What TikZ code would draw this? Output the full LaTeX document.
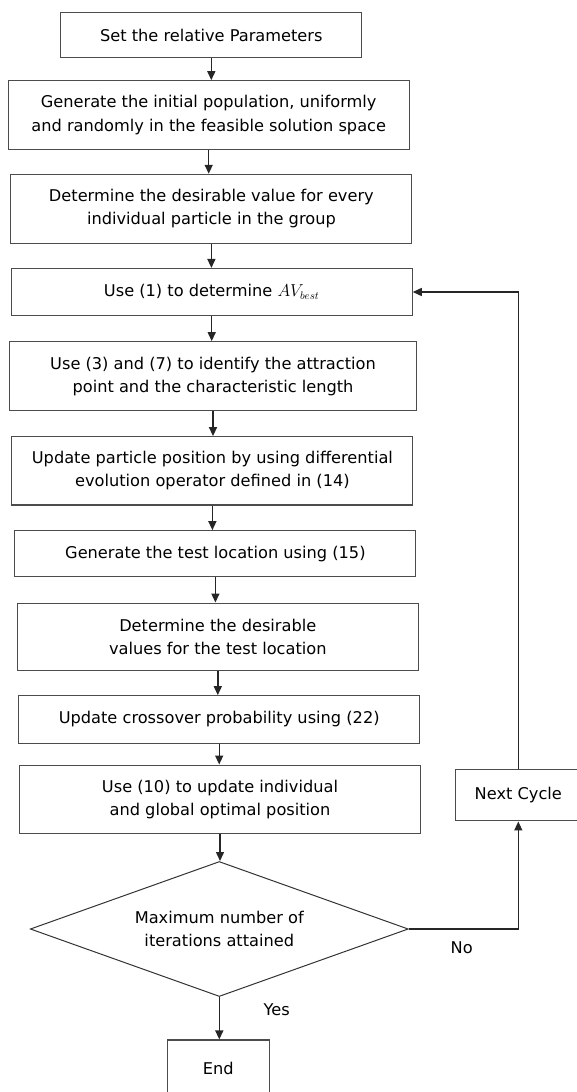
\documentclass[tikz,border=0pt]{standalone}
\usepackage{fontspec}
\setmainfont{DejaVu Sans}
\usetikzlibrary{shapes.geometric,arrows.meta}
\begin{document}
\begin{tikzpicture}[x=1pt,y=-1pt,
	box/.style={rectangle,draw=black!70,line width=1.1pt,minimum width=401pt,align=center,inner sep=2pt,font=\fontsize{16.2pt}{23.3pt}\selectfont},
	arr/.style={draw=black!85,line width=1.4pt,-{Triangle[length=9pt,width=8pt]}},
	lbl/.style={font=\fontsize{16.2pt}{23.3pt}\selectfont}]
			\useasboundingbox (0,0) rectangle (576,1092);
			\node[box,minimum width=301pt,minimum height=45pt](1) at (211.3,35.2){Set the relative Parameters};
			\node[box,minimum height=68.6pt](2) at (208.7,115){Generate the initial population, uniformly\\and randomly in the feasible solution space};
			\node[box,minimum height=69pt](3) at (211.4,208.8){Determine the desirable value for every\\individual particle in the group};
			\node[box,minimum height=47pt](4) at (211.7,292){Use (1) to determine $AV_{best}$};
			\node[box,minimum width=407.5pt,minimum height=69pt](5) at (213,376.2){Use (3) and (7) to identify the attraction\\point and the characteristic length};
			\node[box,minimum height=68.3pt](6) at (212.4,470.8){Update particle position by using differential\\evolution operator defined in (14)};
			\node[box,minimum height=46pt](7) at (215.4,553.7){Generate the test location using (15)};
			\node[box,minimum height=67.7pt](8) at (217.8,636.9){Determine the desirable\\values for the test location};
			\node[box,minimum height=47.6pt](9) at (219.2,719.5){Update crossover probability using (22)};
			\node[box,minimum height=68.3pt](10) at (220,799.2){Use (10) to update individual\\and global optimal position};
			\node[box,shape=diamond,aspect=2.8,inner sep=0pt,draw=black!80,line width=1pt,minimum width=378pt,minimum height=135pt](11) at (219.3,929){Maximum number of\\iterations attained};
			\node[box,minimum width=102pt,minimum height=56pt](12) at (218.3,1068){End};
			\node[box,minimum width=125pt,minimum height=51pt](13) at (518.3,795.4){Next Cycle};
			\node[lbl](14) at (276.7,1010){Yes};
			\node[lbl](15) at (461.7,948){No};
			\draw[arr] (1.south)--(1.south |- 2.north);
			\draw[arr] (2.south)--(2.south |- 3.north);
			\draw[arr] (3.south)--(3.south |- 4.north);
			\draw[arr] (4.south)--(4.south |- 5.north);
			\draw[arr] (5.south)--(5.south |- 6.north);
			\draw[arr] (6.south)--(6.south |- 7.north);
			\draw[arr] (7.south)--(7.south |- 8.north);
			\draw[arr] (8.south)--(8.south |- 9.north);
			\draw[arr] (9.south)--(9.south |- 10.north);
			\draw[arr] (10.south)--(10.south |- 11.north);
			\draw[arr] (11.south)--(11.south |- 12.north);
			\draw[arr] (11.east)-|(13.south);
			\draw[arr] (13.north)|-(4.east);
		\end{tikzpicture}
\end{document}
